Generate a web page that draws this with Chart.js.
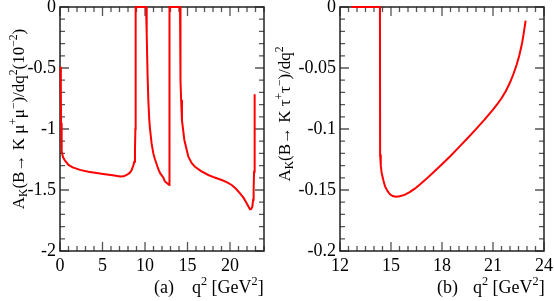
<!DOCTYPE html>
<html><head><meta charset="utf-8">
<script src="https://cdn.jsdelivr.net/npm/chart.js@4.4.0/dist/chart.umd.min.js"></script>
<style>
html,body{margin:0;padding:0;background:#fff;}
#wrap{position:relative;width:554px;height:301px;overflow:hidden;}
canvas{position:absolute;top:0;}
#ca{left:0;}
#cb{left:266px;}
</style></head><body>
<div id="wrap"><canvas id="ca" width="280" height="301"></canvas><canvas id="cb" width="288" height="301"></canvas></div>
<script>
// Panel (a): B -> K mu+ mu-
const muX = [0.08,0.1,0.13,0.17,0.22,0.35,0.59,1.0,1.5,2.35,3.33,4.3,5.29,6.2,7.06,7.5,7.84,8.2,8.43,8.62,8.74,8.82,8.87,8.9,
             10.12,10.2,10.3,10.39,10.5,10.59,10.78,10.98,11.18,11.57,11.76,12.16,12.35,12.6,12.86,12.88,
             14.12,14.15,14.2,14.25,14.35,14.63,15.1,15.5,15.88,16.6,17.45,18.2,19.02,19.6,20.2,20.7,21.18,21.6,21.96,22.2,22.35,22.5,22.63,22.72,22.78,22.83,22.86,22.9,22.94];
const muY = [-0.49,-0.7,-0.95,-1.1,-1.18,-1.23,-1.26,-1.295,-1.315,-1.335,-1.35,-1.36,-1.37,-1.38,-1.39,-1.388,-1.377,-1.36,-1.336,-1.3,-1.268,-1.17,-1.0,0,
             0,-0.22,-0.55,-0.76,-0.92,-1.0,-1.12,-1.2,-1.25,-1.33,-1.36,-1.40,-1.43,-1.445,-1.46,0,
             0,-0.3,-0.6,-0.76,-0.93,-1.09,-1.227,-1.28,-1.309,-1.345,-1.377,-1.398,-1.418,-1.436,-1.459,-1.49,-1.527,-1.565,-1.609,-1.64,-1.658,-1.655,-1.637,-1.58,-1.5,-1.35,-1.17,-0.95,-0.716];
// Panel (b): B -> K tau+ tau-
const tauX = [12.67,14.35,14.36,14.4,14.45,14.55,14.65,14.8,14.94,15.1,15.3,15.5,15.8,16.1,16.4,16.7,17.0,17.5,18.0,18.5,19.0,19.5,20.0,20.5,21.0,21.25,21.5,21.75,22.0,22.2,22.4,22.55,22.7,22.8,22.92];
const tauY = [0,0,-0.121,-0.13,-0.136,-0.142,-0.147,-0.151,-0.1535,-0.155,-0.1555,-0.1551,-0.154,-0.1518,-0.1489,-0.1455,-0.1419,-0.1355,-0.1289,-0.1221,-0.1149,-0.1076,-0.1001,-0.0923,-0.0841,-0.0797,-0.0748,-0.0690,-0.0619,-0.0550,-0.0469,-0.0395,-0.0304,-0.0222,-0.0112];

const xTicksA = [0,5,10,15,20];
const xLabelsA = ['0','5','10','15','20'];
const yTicksA = [0,-0.5,-1,-1.5,-2];
const yLabelsA = ['0','-0.5','-1','-1.5','-2'];
const xTicksB = [12,15,18,21,24];
const xLabelsB = ['12','15','18','21','24'];
const yTicksB = [0,-0.05,-0.1,-0.15,-0.2];
const yLabelsB = ['0','-0.05','-0.1','-0.15','-0.2'];

function range(a,b,s){const r=[];const n=Math.round((b-a)/s);for(let i=0;i<=n;i++)r.push(a+i*s);return r;}

const SERIF = '"Liberation Serif", "Times New Roman", serif';

function drawRich(ctx, runs, x, y, size, rotate, align){
  ctx.save();
  ctx.translate(x,y);
  if(rotate) ctx.rotate(-Math.PI/2);
  ctx.fillStyle='#000';
  ctx.textBaseline='alphabetic';
  ctx.textAlign='left';
  let w=0;
  runs.forEach(r=>{const s=(r.sup||r.sub)?size*0.68:size; r._f=s+'px '+SERIF; ctx.font=r._f; r._w=ctx.measureText(r.t).width; w+=r._w;});
  let cx = align==='center' ? -w/2 : (align==='right' ? -w : 0);
  runs.forEach(r=>{
    ctx.font=r._f;
    const dy = r.sup ? -size*0.42 : (r.sub ? size*0.18 : 0);
    ctx.fillText(r.t, cx, dy);
    cx += r._w;
  });
  ctx.restore();
}

function makeChart(id, xs, ys, cfg){
  const framePlugin = {
    id:'frame',
    beforeDatasetsDraw(chart){
      const {ctx, chartArea:a, scales:{x, y}} = chart;
      ctx.save();
      ctx.strokeStyle='#555';
      ctx.lineWidth=1.3;
      ctx.beginPath();
      cfg.xMinor.forEach(v=>{
        const px=x.getPixelForValue(v);
        const major=cfg.xTicks.some(t=>Math.abs(t-v)<1e-6);
        const L=major?9:5;
        ctx.moveTo(px,a.bottom); ctx.lineTo(px,a.bottom-L);
        ctx.moveTo(px,a.top); ctx.lineTo(px,a.top+L);
      });
      cfg.yMinor.forEach(v=>{
        const py=y.getPixelForValue(v);
        const major=cfg.yTicks.some(t=>Math.abs(t-v)<1e-6);
        const L=major?9:5;
        ctx.moveTo(a.left,py); ctx.lineTo(a.left+L,py);
        ctx.moveTo(a.right,py); ctx.lineTo(a.right-L,py);
      });
      ctx.stroke();
      ctx.strokeStyle='#222';
      ctx.lineWidth=1.5;
      ctx.strokeRect(a.left,a.top,a.right-a.left,a.bottom-a.top);
      ctx.restore();
    },
    afterDraw(chart){
      const ctx=chart.ctx;
      cfg.titles.forEach(t=>drawRich(ctx,t.runs,t.x,t.y,t.size,t.rotate,t.align));
    }
  };
  return new Chart(document.getElementById(id), {
    type:'scatter',
    data:{datasets:[{data:xs.map((v,i)=>({x:v,y:ys[i]})), showLine:true, borderColor:'#ff0000', borderWidth:2, pointRadius:0, tension:0, fill:false, clip:false}]},
    options:{
      responsive:false, animation:false, devicePixelRatio:1,
      layout:{padding:{left:0,right:cfg.padRight,top:7,bottom:0}},
      plugins:{legend:{display:false}, tooltip:{enabled:false}},
      scales:{
        x:{type:'linear', min:cfg.xMin, max:cfg.xMax,
           afterBuildTicks:s=>{s.ticks=cfg.xTicks.map(v=>({value:v}));},
           ticks:{autoSkip:false, maxRotation:0, minRotation:0, padding:4, color:'#000', font:{family:SERIF,size:18},
                  callback:(v,i)=>cfg.xLabels[i]},
           grid:{display:false, drawTicks:false}, border:{display:false},
           afterFit:s=>{s.height=50; s.paddingLeft=0; s.paddingRight=0;}},
        y:{type:'linear', min:cfg.yMin, max:cfg.yMax,
           afterBuildTicks:s=>{s.ticks=cfg.yTicks.map(v=>({value:v}));},
           ticks:{autoSkip:false, padding:4, color:'#000', font:{family:SERIF,size:18},
                  callback:(v,i)=>cfg.yLabels[i]},
           grid:{display:false, drawTicks:false}, border:{display:false},
           afterFit:s=>{s.width=cfg.yWidth; s.paddingTop=0; s.paddingBottom=0;}}
      }
    },
    plugins:[framePlugin]
  });
}

makeChart('ca', muX, muY, {
  xMin:0, xMax:24, yMin:-2, yMax:0, padRight:16, yWidth:60,
  xTicks:xTicksA, xLabels:xLabelsA, yTicks:yTicksA, yLabels:yLabelsA,
  xMinor:range(0,24,1), yMinor:range(-2,0,0.1),
  titles:[
    {runs:[{t:'A'},{t:'K',sub:true},{t:'(B\u2192 K \u03bc'},{t:'+',sup:true},{t:'\u03bc'},{t:'\u2212',sup:true},{t:')/dq'},{t:'2',sup:true},{t:'(10'},{t:'\u22122',sup:true},{t:')'}],
     x:24, y:119, size:17, rotate:true, align:'center'},
    {runs:[{t:'(a)'}], x:154, y:293, size:18},
    {runs:[{t:'q'},{t:'2',sup:true},{t:' [GeV'},{t:'2',sup:true},{t:']'}], x:192, y:293, size:18}
  ]
});

makeChart('cb', tauX, tauY, {
  xMin:12, xMax:24, yMin:-0.2, yMax:0, padRight:10, yWidth:74,
  xTicks:xTicksB, xLabels:xLabelsB, yTicks:yTicksB, yLabels:yLabelsB,
  xMinor:range(12,24,0.5), yMinor:range(-0.2,0,0.01),
  titles:[
    {runs:[{t:'A'},{t:'K',sub:true},{t:'(B\u2192 K \u03c4'},{t:'+',sup:true},{t:'\u03c4'},{t:'\u2212',sup:true},{t:')/dq'},{t:'2',sup:true}],
     x:24, y:114, size:17, rotate:true, align:'center'},
    {runs:[{t:'(b)'}], x:437-266, y:293, size:18},
    {runs:[{t:'q'},{t:'2',sup:true},{t:' [GeV'},{t:'2',sup:true},{t:']'}], x:473-266, y:293, size:18}
  ]
});
</script>
</body></html>
